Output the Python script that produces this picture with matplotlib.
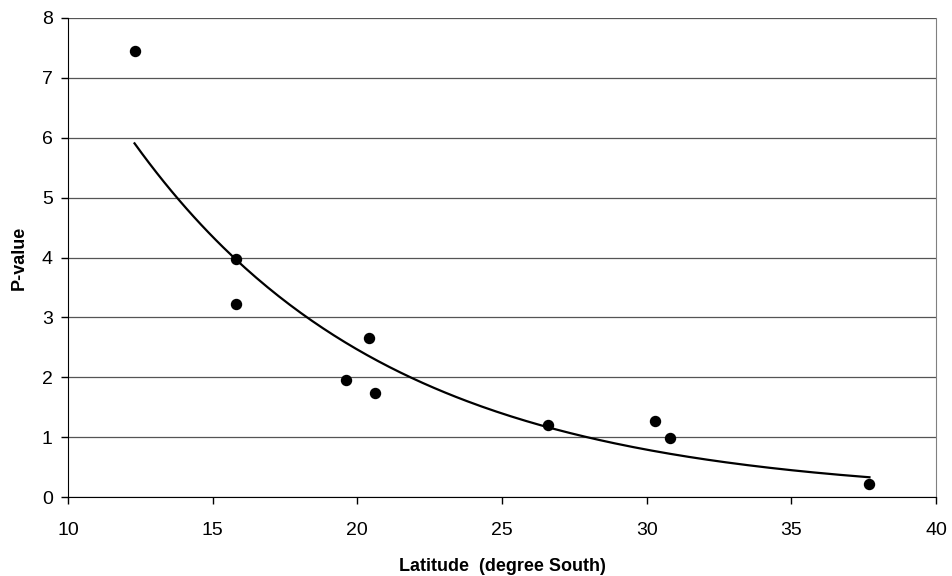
import numpy as np
from matplotlib import pyplot as plt

plt.rcParams['font.family'] = ['Liberation Sans', 'DejaVu Sans']

# latitude (degree South) and P-value
latitude = [12.3, 15.8, 15.8, 19.6, 20.4, 20.6, 26.6, 30.3, 30.8, 37.7]
pvalue = [7.45, 3.97, 3.22, 1.96, 2.66, 1.73, 1.21, 1.27, 0.99, 0.21]

xTicks = [10, 15, 20, 25, 30, 35, 40]
yTicks = [0, 1, 2, 3, 4, 5, 6, 7, 8]

if __name__ == '__main__':

    fig = plt.figure(figsize=(9.53, 5.76), dpi=100)
    ax = fig.add_axes([68/953, 1-497/576, (936-68)/953, (497-18)/576])

    # exponential trendline, least squares on log(y) like a spreadsheet
    b, lna = np.polyfit(latitude, np.log(pvalue), 1)
    xs = np.linspace(min(latitude), max(latitude), 200)
    ax.plot(xs, np.exp(lna) * np.exp(b * xs), color='black', lw=1.6, zorder=3)

    ax.plot(latitude, pvalue, 'o', color='black', ms=7.2, zorder=4)

    ax.set_xlim(10, 40)
    ax.set_ylim(0, 8)
    ax.set_xticks(xTicks)
    ax.set_yticks(yTicks)
    ax.yaxis.grid(True, color='#555555', lw=0.9)
    ax.set_axisbelow(True)

    ax.spines['top'].set_visible(False)
    ax.spines['right'].set_color('#808080')
    ax.spines['left'].set_color('black')
    ax.spines['bottom'].set_color('black')
    ax.tick_params(direction='out', length=5, width=1, labelsize=14, colors='black')
    ax.tick_params(axis='x', pad=13)
    ax.tick_params(axis='y', pad=6)

    ax.set_xlabel('Latitude  (degree South)', fontsize=13, fontweight='bold', labelpad=14)
    ax.set_ylabel('P-value', fontsize=13, fontweight='bold', labelpad=10)

    fig.savefig('out.png', dpi=100)
